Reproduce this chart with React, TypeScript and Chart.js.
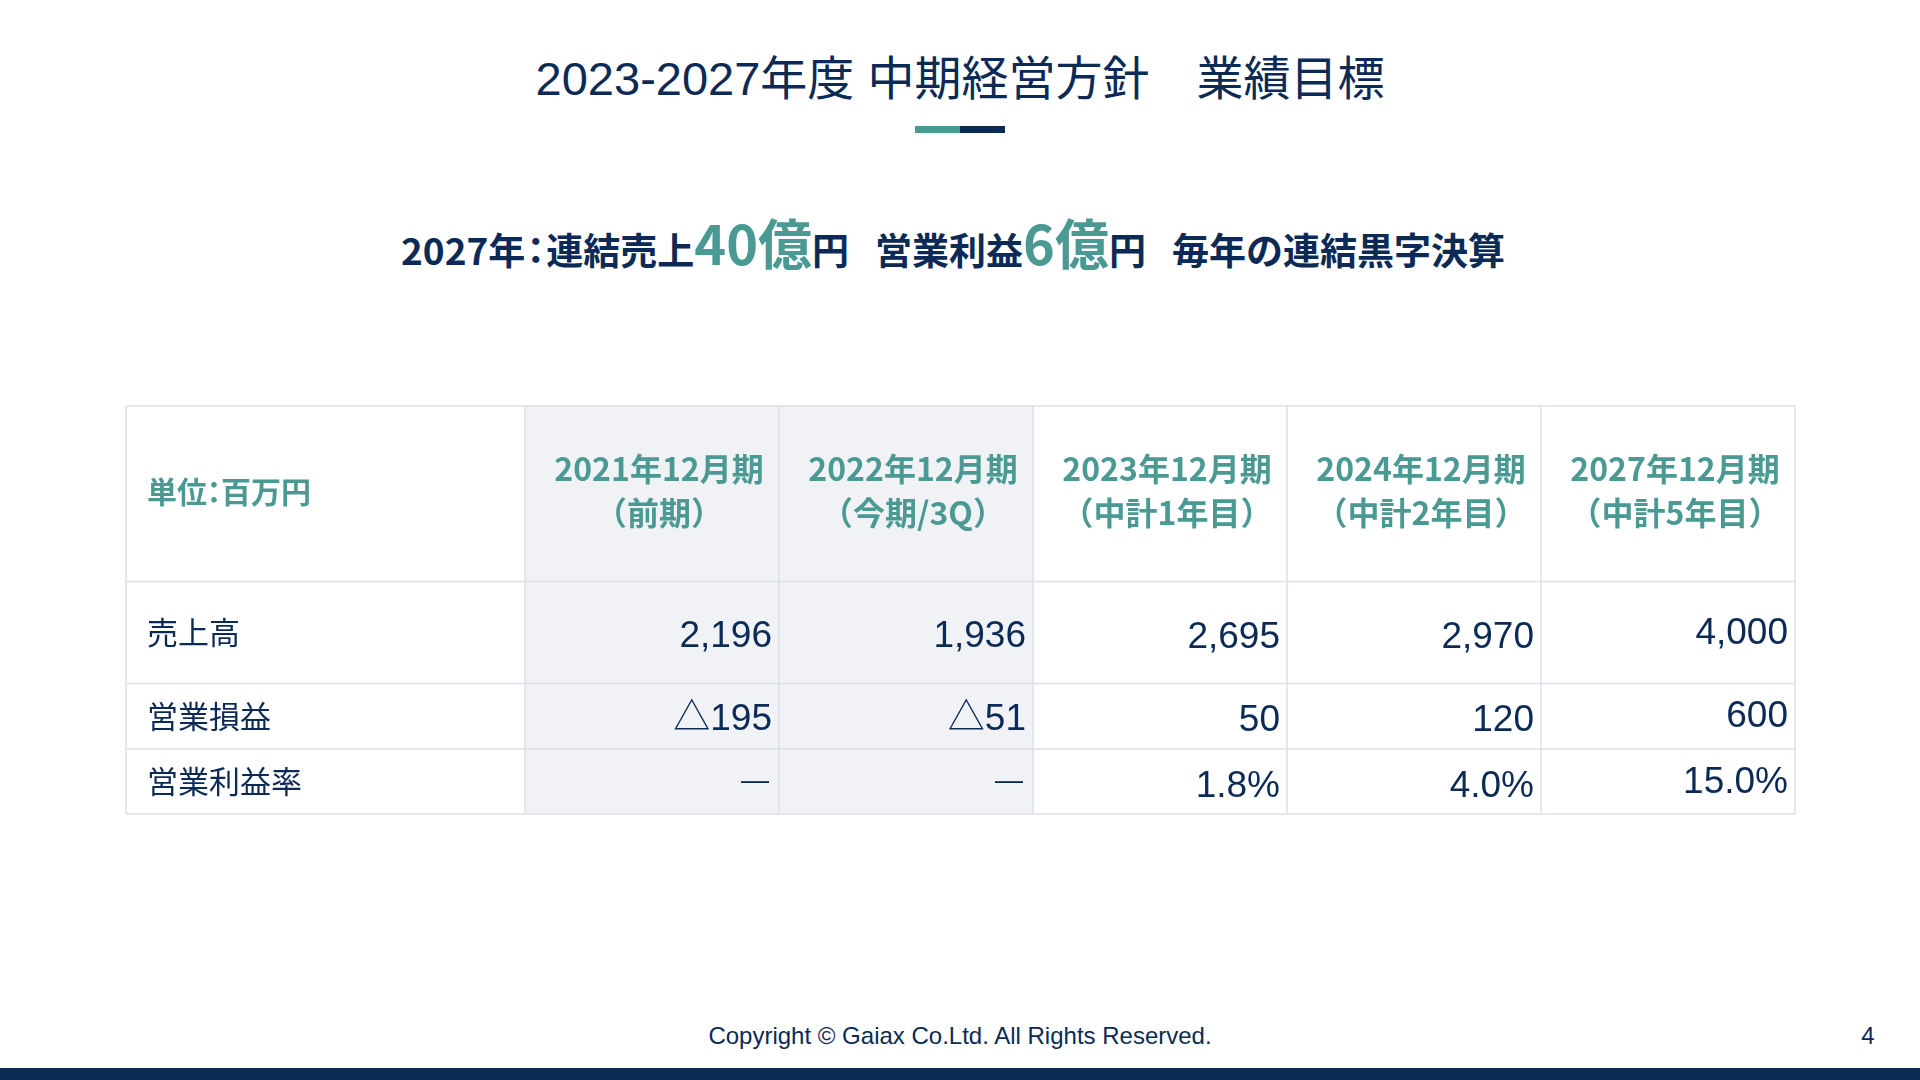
import React, { useEffect, useRef } from "react";
import { Chart, registerables } from "chart.js";

Chart.register(...registerables);

// ---------- data ----------
const titleText = "2023-2027年度 中期経営方針　業績目標";
const subtitleParts = [
  { text: "2027年：連結売上", big: false },
  { text: "40億", big: true },
  { text: "円　営業利益", big: false },
  { text: "6億", big: true },
  { text: "円　毎年の連結黒字決算", big: false },
];
const unitLabel = ["単位", "：", "百万円"];
const periods = ["2021年12月期", "2022年12月期", "2023年12月期", "2024年12月期", "2027年12月期"];
const periodNotes = ["（前期）", "（今期/3Q）", "（中計1年目）", "（中計2年目）", "（中計5年目）"];
const shadedPeriods = ["2021年12月期", "2022年12月期"];
const rowLabels = ["売上高", "営業損益", "営業利益率"];
const sales = [2196, 1936, 2695, 2970, 4000];
const operatingProfit = [-195, -51, 50, 120, 600];
const operatingMargin: (number | null)[] = [null, null, 1.8, 4.0, 15.0];
const footerText = "Copyright © Gaiax Co.Ltd. All Rights Reserved.";
const pageNumber = "4";

// ---------- style ----------
const NAVY = "#0c2a56";
const TEAL = "#4a9a93";
const SHADE = "#f0f2f6";
const GRID = "#dcdfe7";
const JP = '"Noto Sans CJK JP", "Noto Sans", sans-serif';
const LATIN_JP = '"Liberation Sans", "Noto Sans CJK JP", sans-serif';
const VALUE_FONT = '37px "Liberation Sans", "Noto Sans CJK JP", sans-serif';

// column / row proportions of the table (layout)
const colUnits = [399 / 254, 1, 1, 1, 1, 1];
const rowUnits = [175.5, 102, 65.5, 65];
const valueNudge = [1, 1, 2, 2, -2];

const cumulative = (arr: number[]) => {
  const out = [0];
  arr.forEach((v) => out.push(out[out.length - 1] + v));
  return out;
};
const colEdges = cumulative(colUnits);
const rowEdges = cumulative(rowUnits);

const fmtThousands = (v: number) => String(v).replace(/\B(?=(\d{3})+(?!\d))/g, ",");
const tableRows = [
  { label: rowLabels[0], cells: sales.map((v) => fmtThousands(v)) },
  { label: rowLabels[1], cells: operatingProfit.map((v) => (v < 0 ? "△" + fmtThousands(Math.abs(v)) : fmtThousands(v))) },
  { label: rowLabels[2], cells: operatingMargin.map((v) => (v == null ? "—" : v.toFixed(1) + "%")) },
];

const tablePlugin = {
  id: "kpiTable",
  afterDraw(chart: any) {
    const { ctx } = chart;
    const x = chart.scales.x;
    const y = chart.scales.y;
    const xe = colEdges.map((v) => x.getPixelForValue(v));
    const ye = rowEdges.map((v) => y.getPixelForValue(v));
    const top = ye[0];
    const bottom = ye[ye.length - 1];
    ctx.save();

    // shaded period columns
    ctx.fillStyle = SHADE;
    shadedPeriods.forEach((p) => {
      const i = periods.indexOf(p) + 1;
      ctx.fillRect(xe[i], top, xe[i + 1] - xe[i], bottom - top);
    });

    // grid lines
    ctx.strokeStyle = GRID;
    ctx.lineWidth = 1.5;
    ctx.beginPath();
    xe.forEach((px) => {
      ctx.moveTo(px, top);
      ctx.lineTo(px, bottom);
    });
    ye.forEach((py) => {
      ctx.moveTo(xe[0], py);
      ctx.lineTo(xe[xe.length - 1], py);
    });
    ctx.stroke();

    const labelX = xe[0] + 21;

    // header row
    const hMid = (ye[0] + ye[1]) / 2;
    ctx.fillStyle = TEAL;
    ctx.textBaseline = "alphabetic";
    ctx.font = `bold 30px ${JP}`;
    ctx.textAlign = "left";
    let ux = labelX;
    unitLabel.forEach((seg) => {
      const w = ctx.measureText(seg).width;
      if (seg === "：") {
        ctx.fillText(seg, ux - 8, hMid + 9);
        ux += w - 16;
      } else {
        ctx.fillText(seg, ux, hMid + 9);
        ux += w;
      }
    });
    ctx.textAlign = "center";
    ctx.font = `bold 32px ${JP}`;
    periods.forEach((p, i) => {
      const cx = (xe[i + 1] + xe[i + 2]) / 2 + 7;
      ctx.fillText(p, cx, hMid - 12.5);
      ctx.fillText(periodNotes[i], cx, hMid + 31);
    });

    // body rows
    tableRows.forEach((row, r) => {
      const mid = (ye[r + 1] + ye[r + 2]) / 2;
      ctx.fillStyle = NAVY;
      ctx.textAlign = "left";
      ctx.font = `31px ${JP}`;
      ctx.fillText(row.label, labelX, mid + 11.5);
      ctx.textAlign = "right";
      row.cells.forEach((txt, i) => {
        const rx = xe[i + 2] - 7;
        if (txt === "—") {
          ctx.font = `28px "Liberation Sans", "DejaVu Sans", sans-serif`;
          ctx.fillText(txt, rx - 3, mid + 7);
        } else {
          ctx.font = VALUE_FONT;
          ctx.fillText(txt, rx, mid + 13.2 + valueNudge[i]);
        }
      });
    });

    ctx.restore();
  },
};

const renderSub = (text: string) =>
  text
    .split(/(：|　)/)
    .filter(Boolean)
    .map((seg, j) => {
      if (seg === "：") return <span key={j} style={{ marginLeft: -8, marginRight: -8 }}>{seg}</span>;
      if (seg === "　") return <span key={j} style={{ marginRight: -11 }}>{seg}</span>;
      return <span key={j}>{seg}</span>;
    });

export default function App() {
  const ref = useRef<HTMLCanvasElement | null>(null);

  useEffect(() => {
    document.body.style.margin = "0";
    const canvas = ref.current;
    if (!canvas) return;
    const chart = new Chart(canvas, {
      type: "scatter",
      data: { datasets: [] },
      options: {
        responsive: false,
        animation: false,
        events: [],
        layout: { padding: { left: 6, top: 6, right: 7, bottom: 6 } },
        scales: {
          x: { type: "linear", min: 0, max: colEdges[colEdges.length - 1], display: false },
          y: { type: "linear", min: 0, max: rowEdges[rowEdges.length - 1], reverse: true, display: false },
        },
        plugins: { legend: { display: false }, tooltip: { enabled: false }, title: { display: false } },
      },
      plugins: [tablePlugin],
    } as any);
    return () => chart.destroy();
  }, []);

  return (
    <div style={{ position: "relative", width: 1920, height: 1080, background: "#fff", overflow: "hidden" }}>
      <div
        style={{
          position: "absolute",
          left: 0,
          top: 55,
          width: 1920,
          textAlign: "center",
          fontSize: 47,
          lineHeight: "47px",
          color: NAVY,
          fontFamily: LATIN_JP,
          whiteSpace: "pre",
        }}
      >
        {titleText}
      </div>
      <div style={{ position: "absolute", left: 915, top: 126, width: 45, height: 7, background: TEAL }} />
      <div style={{ position: "absolute", left: 960, top: 126, width: 45, height: 7, background: NAVY }} />
      <div
        style={{
          position: "absolute",
          left: -7,
          top: 215,
          width: 1920,
          textAlign: "center",
          fontSize: 37,
          lineHeight: "54px",
          fontWeight: "bold",
          color: NAVY,
          fontFamily: JP,
          whiteSpace: "pre",
        }}
      >
        {subtitleParts.map((p, i) => (
          <span key={i} style={p.big ? { fontSize: 54, lineHeight: "54px", color: TEAL } : undefined}>
            {renderSub(p.text)}
          </span>
        ))}
      </div>
      <canvas ref={ref} width={1682} height={420} style={{ position: "absolute", left: 120, top: 400, width: 1682, height: 420 }} />
      <div
        style={{
          position: "absolute",
          left: 0,
          top: 1024,
          width: 1920,
          textAlign: "center",
          fontSize: 24,
          lineHeight: "24px",
          color: NAVY,
          fontFamily: '"Liberation Sans", sans-serif',
        }}
      >
        {footerText}
      </div>
      <div
        style={{
          position: "absolute",
          left: 1855,
          top: 1024,
          width: 26,
          textAlign: "center",
          fontSize: 24,
          lineHeight: "24px",
          color: NAVY,
          fontFamily: '"Liberation Sans", sans-serif',
        }}
      >
        {pageNumber}
      </div>
      <div style={{ position: "absolute", left: 0, top: 1068, width: 1920, height: 12, background: NAVY }} />
    </div>
  );
}
